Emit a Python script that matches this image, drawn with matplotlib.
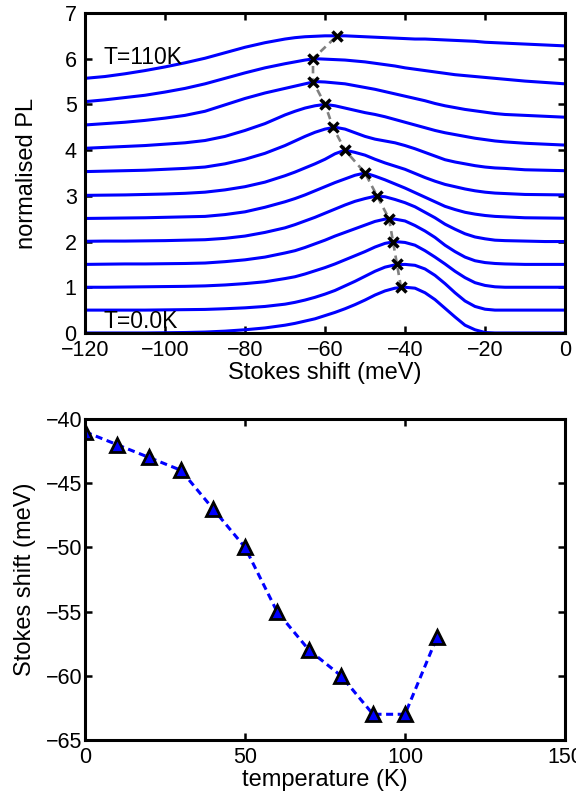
import matplotlib
matplotlib.use("Agg")
import matplotlib.pyplot as plt
import numpy as np

plt.rcParams["font.family"] = ["Liberation Sans", "DejaVu Sans"]

# Stokes shift grid (meV) on which the PL spectra were read
shift = [-120, -115, -110, -105, -100, -95, -90, -85, -80, -75, -70,
         -67.5, -65, -62.5, -60, -57.5, -55, -52.5, -50, -47.5, -45, -42.5,
         -40, -37.5, -35, -32.5, -30, -27.5, -25, -22.5, -20, -17.5, -15,
         -10, -5, 0]

temps = [0, 10, 20, 30, 40, 50, 60, 70, 80, 90, 100, 110]

# normalised PL spectra, one row per temperature
pl_0 = [0, 0, 0, 0, .005, .01, .02, .04, .07, .11, .17,
        .21, .26, .31, .38, .45, .53, .62, .72, .83, .92, .98,
        1.0, .98, .88, .73, .54, .35, .17, .07, .01, 0, 0,
        0, 0, 0]
pl_10 = [0, 0, 0, 0, .005, .01, .015, .03, .05, .08, .13,
         .17, .22, .28, .35, .43, .53, .63, .74, .85, .94, .99,
         1.0, .98, .90, .76, .58, .38, .20, .08, .02, 0, 0,
         0, 0, 0]
pl_20 = [0, 0, .005, .01, .015, .02, .03, .05, .08, .12, .19,
         .23, .29, .36, .43, .51, .60, .69, .78, .88, .96, 1.0,
         .98, .92, .80, .66, .51, .35, .21, .10, .04, .01, 0,
         0, 0, 0]
pl_30 = [0, .005, .01, .01, .015, .02, .03, .06, .10, .16, .25,
         .30, .37, .45, .53, .62, .70, .78, .86, .94, .99, .99,
         .95, .85, .73, .59, .42, .28, .16, .08, .04, .02, .01,
         0, 0, 0]
pl_40 = [.005, .01, .01, .015, .02, .03, .04, .07, .12, .20, .30,
         .37, .45, .53, .62, .71, .80, .88, .94, .99, .98, .92,
         .85, .76, .64, .52, .38, .27, .17, .10, .06, .03, .02,
         .01, 0, 0]
pl_50 = [.005, .01, .015, .02, .03, .04, .05, .09, .15, .25, .37,
         .44, .52, .61, .70, .79, .87, .95, 1.0, .93, .85, .76,
         .67, .57, .47, .37, .27, .20, .14, .10, .07, .05, .04,
         .02, .015, .01]
pl_60 = [.01, .015, .02, .03, .04, .055, .08, .13, .20, .30, .44,
         .52, .61, .70, .80, .92, 1.0, .95, .89, .80, .72, .65,
         .58, .49, .40, .32, .25, .20, .15, .11, .08, .06, .05,
         .03, .025, .02]
pl_70 = [.03, .04, .05, .06, .08, .10, .13, .20, .30, .43, .60,
         .70, .80, .89, .96, 1.0, .96, .88, .80, .74, .70, .66,
         .60, .53, .45, .37, .29, .24, .20, .16, .13, .11, .10,
         .07, .06, .05]
pl_80 = [.04, .06, .08, .10, .13, .16, .21, .30, .43, .58, .77,
         .85, .92, .97, 1.0, .97, .92, .87, .82, .78, .73, .67,
         .61, .55, .49, .43, .38, .34, .30, .26, .23, .20, .18,
         .15, .13, .11]
pl_90 = [.05, .08, .11, .15, .20, .26, .35, .49, .63, .75, .85,
         .90, .95, 1.0, .99, .97, .95, .91, .87, .83, .78, .73,
         .68, .63, .58, .52, .47, .43, .39, .36, .33, .30, .28,
         .26, .24, .22]
pl_100 = [.06, .10, .15, .20, .27, .35, .45, .57, .69, .80, .89,
          .93, .97, 1.0, .99, .98, .97, .95, .93, .90, .87, .84,
          .80, .77, .74, .71, .68, .65, .63, .61, .59, .57, .55,
          .51, .48, .45]
pl_110 = [.07, .11, .17, .24, .32, .41, .51, .63, .75, .85, .93,
          .96, .98, .99, 1.0, 1.0, 1.0, .99, .98, .97, .96, .95,
          .94, .93, .93, .92, .91, .90, .89, .88, .86, .85, .84,
          .82, .80, .78]
pl = [pl_0, pl_10, pl_20, pl_30, pl_40, pl_50, pl_60, pl_70, pl_80, pl_90, pl_100, pl_110]

# peak Stokes shift (meV) per temperature
peak_shift = [-41, -42, -43, -44, -47, -50, -55, -58, -60, -63, -63, -57]

offset_step = 0.5
blue = (0, 0, 1)

fig = plt.figure(figsize=(5.76, 7.96), dpi=100)
ax1 = fig.add_axes([0.1476, 0.5817, 0.8333, 0.402])
ax2 = fig.add_axes([0.1476, 0.0704, 0.8333, 0.4033])

# top: stacked spectra with peak positions
for i, row in enumerate(pl):
    ax1.plot(shift, np.array(row) + offset_step * i, color=blue, lw=2.2)

peak_y = [1 + offset_step * i for i in range(len(temps))]
ax1.plot(peak_shift, peak_y, color="0.5", lw=1.9, ls=(0, (2.8, 1.9)), zorder=3)
ax1.plot(peak_shift, peak_y, ls="none", marker="x", color="k", ms=7, mew=2.5, zorder=4)

ax1.text(-115.5, 6.02, "T=110K", ha="left", va="center", fontsize=16.5)
ax1.text(-115.5, 0.24, "T=0.0K", ha="left", va="center", fontsize=16.5)

ax1.set_xlim(-120, 0)
ax1.set_ylim(0, 7)
ax1.set_xticks(range(-120, 1, 20))
ax1.set_yticks(range(0, 8))
ax1.set_xlabel("Stokes shift (meV)", fontsize=17, va="center")
ax1.set_ylabel("normalised PL", fontsize=17, va="center")
ax1.xaxis.set_label_coords(0.5, -0.125)
ax1.yaxis.set_label_coords(-0.121, 0.5)

# bottom: peak shift versus temperature
ax2.plot(temps, peak_shift, color=blue, lw=2.2, ls=(0, (2.3, 1.5)), zorder=3)
ax2.plot(temps, peak_shift, ls="none", marker="^", ms=10.5, mfc=blue, mec="k", mew=2, zorder=4)
ax2.set_xlim(0, 150)
ax2.set_ylim(-65, -40)
ax2.set_xticks([0, 50, 100, 150])
ax2.set_yticks(range(-65, -39, 5))
ax2.set_xlabel("temperature (K)", fontsize=17, va="center")
ax2.set_ylabel("Stokes shift (meV)", fontsize=17, va="center")
ax2.xaxis.set_label_coords(0.5, -0.1246)
ax2.yaxis.set_label_coords(-0.125, 0.5)

for ax in (ax1, ax2):
    for sp in ax.spines.values():
        sp.set_linewidth(2.2)
        sp.set_zorder(5)
    ax.tick_params(direction="in", length=5, width=1.8, top=True, right=True, labelsize=15.5)
    ax.tick_params(axis="x", pad=5)
ax1.tick_params(axis="y", pad=6)
ax2.tick_params(axis="y", pad=2)

fig.savefig("out.png", dpi=100)
